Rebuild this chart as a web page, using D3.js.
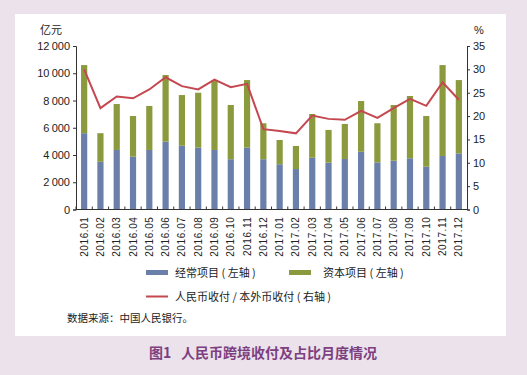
<!DOCTYPE html>
<html>
<head>
<meta charset="utf-8">
<script src="https://cdn.jsdelivr.net/npm/d3@7/dist/d3.min.js"></script>
<style>
  body { margin: 0; background: #ebe2ec; }
  svg { display: block; font-family: "Liberation Sans", Arial, sans-serif; }
  .cjk { font-family: "Noto Sans CJK SC", sans-serif; }
</style>
</head>
<body>
<div id="chart"></div>
<script>
// months on the x axis
var months = ["2016.01","2016.02","2016.03","2016.04","2016.05","2016.06","2016.07","2016.08","2016.09","2016.10","2016.11","2016.12",
              "2017.01","2017.02","2017.03","2017.04","2017.05","2017.06","2017.07","2017.08","2017.09","2017.10","2017.11","2017.12"];
// 经常项目 (亿元)
var current = [5600, 3500, 4370, 3880, 4370, 4980, 4680, 4540, 4370, 3690, 4540, 3690,
               3320, 2970, 3800, 3440, 3710, 4240, 3460, 3580, 3760, 3140, 3930, 4120];
// 资本项目 (亿元) = total - current
var totals = [10600, 5600, 7740, 6860, 7600, 9870, 8400, 8570, 9500, 7670, 9500, 6330,
              5100, 4660, 7010, 5840, 6280, 7960, 6330, 7670, 8330, 6860, 10600, 9500];
var capital = totals.map(function (t, i) { return t - current[i]; });
// 人民币收付 / 本外币收付 (%)
var ratio = [30.0, 21.7, 24.2, 23.8, 25.7, 28.3, 26.4, 25.7, 27.8, 26.2, 26.9, 17.2,
             16.8, 16.3, 20.1, 19.4, 19.2, 21.1, 19.6, 21.7, 23.7, 22.2, 27.2, 23.5];
var leftTicks = [0, 2000, 4000, 6000, 8000, 10000, 12000];
var rightTicks = [0, 5, 10, 15, 20, 25, 30, 35];

var W = 527, H = 375;
var blue = "#6a7fa9", green = "#8a9a3d", red = "#c5474f";

var svg = d3.select("#chart").append("svg")
    .attr("width", W)
    .attr("height", H);

// white panel
svg.append("rect")
    .attr("x", 15).attr("y", 14)
    .attr("width", 491).attr("height", 322)
    .attr("fill", "#fff");

var x = d3.scaleBand().domain(months).range([76, 467]).paddingInner(0.62).paddingOuter(0.31);
var yL = d3.scaleLinear().domain([0, 12000]).range([209.5, 46]);
var yR = d3.scaleLinear().domain([0, 35]).range([209.5, 46]);

var fmt = function (d) { return d >= 1000 ? d3.format(",")(d).replace(",", "\u2009") : d; };

// bars
var g = svg.append("g");
g.selectAll("rect.cur")
    .data(current)
  .enter().append("rect")
    .attr("class", "cur")
    .attr("x", function (d, i) { return x(months[i]); })
    .attr("width", x.bandwidth())
    .attr("y", function (d) { return yL(d); })
    .attr("height", function (d) { return yL(0) - yL(d); })
    .attr("fill", blue);

g.selectAll("rect.cap")
    .data(capital)
  .enter().append("rect")
    .attr("class", "cap")
    .attr("x", function (d, i) { return x(months[i]); })
    .attr("width", x.bandwidth())
    .attr("y", function (d, i) { return yL(current[i] + d); })
    .attr("height", function (d) { return yL(0) - yL(d); })
    .attr("fill", green);

// ratio line
var line = d3.line()
    .x(function (d, i) { return x(months[i]) + x.bandwidth() / 2; })
    .y(function (d) { return yR(d); });

svg.append("path")
    .datum(ratio)
    .attr("d", line)
    .attr("fill", "none")
    .attr("stroke", red)
    .attr("stroke-width", 2);

// left axis
var axL = svg.append("g")
    .attr("transform", "translate(76,0)")
    .call(d3.axisLeft(yL).tickValues(leftTicks).tickSize(3).tickFormat(fmt));
// right axis
var axR = svg.append("g")
    .attr("transform", "translate(467,0)")
    .call(d3.axisRight(yR).tickValues(rightTicks).tickSize(3));
[axL, axR].forEach(function (a) {
  a.select(".domain").attr("stroke", "#333");
  a.selectAll(".tick line").attr("stroke", "#333");
  a.selectAll("text").attr("font-size", 11).attr("fill", "#222")
      .attr("font-family", "Liberation Sans, Arial, sans-serif");
});
axL.selectAll("text").attr("x", -6);
axR.selectAll("text").attr("x", 6);

// bottom axis: ticks between bars, pointing up
var axB = svg.append("g")
    .attr("transform", "translate(0," + yL(0) + ")");
axB.append("line")
    .attr("x1", 76).attr("x2", 467)
    .attr("stroke", "#333");
axB.selectAll("line.tk")
    .data(months)
  .enter().append("line")
    .attr("class", "tk")
    .attr("x1", function (d) { return x(d) - x.step() * x.paddingInner() / 2 + x.step() * 0.0; })
    .attr("x2", function (d) { return x(d) - x.step() * x.paddingInner() / 2; })
    .attr("y1", 0).attr("y2", -3)
    .attr("stroke", "#333");
axB.selectAll("text")
    .data(months)
  .enter().append("text")
    .attr("transform", function (d) {
      return "translate(" + (x(d) + x.bandwidth() / 2 + 3.5) + ",7) rotate(-90)";
    })
    .attr("text-anchor", "end")
    .attr("font-size", 10)
    .attr("letter-spacing", 0.6)
    .attr("fill", "#222")
    .text(function (d) { return d; });

// unit labels
svg.append("text").attr("class", "cjk")
    .attr("x", 40).attr("y", 34)
    .attr("font-size", 11).attr("fill", "#222")
    .text("亿元");
svg.append("text")
    .attr("x", 474).attr("y", 34)
    .attr("font-size", 11).attr("fill", "#222")
    .text("%");

// legend
var leg = svg.append("g").attr("class", "cjk").attr("font-size", 11).attr("fill", "#222");
leg.append("rect").attr("x", 146).attr("y", 270).attr("width", 22).attr("height", 5).attr("fill", blue);
leg.append("text").attr("x", 175).attr("y", 277).text("经常项目 ( 左轴 )");
leg.append("rect").attr("x", 289).attr("y", 270).attr("width", 22).attr("height", 5).attr("fill", green);
leg.append("text").attr("x", 323).attr("y", 277).text("资本项目 ( 左轴 )");
leg.append("line").attr("x1", 146).attr("x2", 168).attr("y1", 296.5).attr("y2", 296.5)
    .attr("stroke", red).attr("stroke-width", 2);
leg.append("text").attr("x", 175).attr("y", 301).text("人民币收付 / 本外币收付 ( 右轴 )");

svg.append("text").attr("class", "cjk")
    .attr("x", 67).attr("y", 322)
    .attr("font-size", 10.5).attr("fill", "#222")
    .text("数据来源：中国人民银行。");

// title
svg.append("text").attr("class", "cjk")
    .attr("x", 263).attr("y", 358)
    .attr("text-anchor", "middle")
    .attr("font-size", 14).attr("font-weight", "bold")
    .attr("fill", "#7d3f80")
    .attr("xml:space", "preserve")
    .text("图1   人民币跨境收付及占比月度情况");
</script>
</body>
</html>
